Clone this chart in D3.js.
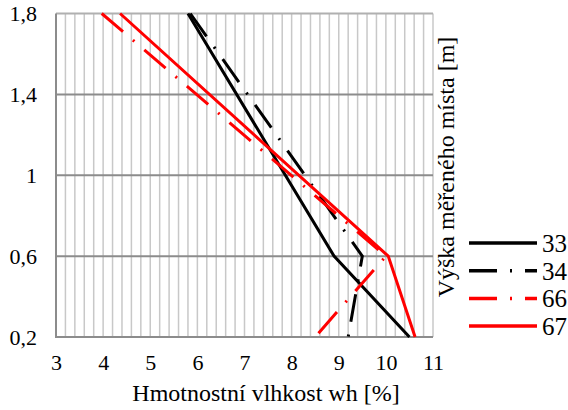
<!DOCTYPE html>
<html>
<head>
<meta charset="utf-8">
<script src="https://cdn.jsdelivr.net/npm/d3@7"></script>
<style>
  body { margin: 0; background: #fff; }
</style>
</head>
<body>
<svg class="chart"></svg>
<script>
// heights of measured points [m]
const heights = [1.8, 0.6, 0.2];
const seriesNames = ['33', '34', '66', '67'];
// moisture content wh [%] at each height
const s33 = [5.8, 8.9, 10.5];
const s34 = [5.85, 9.5, 9.2];
const s66 = [3.97, 10.0, 8.5];
const s67 = [4.36, 10.05, 10.62];
const xTicks = [3, 4, 5, 6, 7, 8, 9, 10, 11];
const yTicks = [0.2, 0.6, 1, 1.4, 1.8];

const serif = '"Times New Roman", "Liberation Serif", Tinos, "Noto Serif", "DejaVu Serif", serif';

const svgWidth = 568;
const svgHeight = 410;
const margin = { top: 13.5, right: 135, bottom: 73, left: 56 };
const chartWidth = svgWidth - margin.left - margin.right;
const chartHeight = svgHeight - margin.top - margin.bottom;

const svg = d3.select('.chart')
  .attr('width', svgWidth)
  .attr('height', svgHeight)
  .attr('font-family', serif);

const chart = svg.append('g')
  .attr('transform', 'translate(' + margin.left + ',' + margin.top + ')');

const xScale = d3.scaleLinear().domain([3, 11]).range([0, chartWidth]);
const yScale = d3.scaleLinear().domain([0.2, 1.8]).range([chartHeight, 0]);

// minor vertical gridlines every 0.2
const minor = d3.range(16, 56).map(d => d / 5);
chart.append('g').selectAll('line')
  .data(minor)
  .enter().append('line')
  .attr('x1', d => xScale(d)).attr('x2', d => xScale(d))
  .attr('y1', 0).attr('y2', chartHeight)
  .attr('stroke', '#c8c8c8')
  .attr('stroke-width', 1.5);

// horizontal gridlines
chart.append('g').selectAll('line')
  .data(yTicks.slice(1))
  .enter().append('line')
  .attr('x1', 0).attr('x2', chartWidth)
  .attr('y1', d => yScale(d)).attr('y2', d => yScale(d))
  .attr('stroke', d => d === 1.8 ? '#b0b0b0' : '#8c8c8c')
  .attr('stroke-width', 2);

// axes
const xAxisGroup = chart.append('g')
  .attr('transform', 'translate(0,' + chartHeight + ')')
  .call(d3.axisBottom(xScale).tickValues(xTicks).tickSize(0).tickPadding(17));
xAxisGroup.attr('font-family', serif).attr('font-size', 22);
xAxisGroup.select('.domain').remove();
xAxisGroup.selectAll('text').attr('fill', '#000');

const yAxisGroup = chart.append('g')
  .call(d3.axisLeft(yScale).tickValues(yTicks).tickSize(0).tickPadding(19)
    .tickFormat(d => String(d).replace('.', ',')));
yAxisGroup.attr('font-family', serif).attr('font-size', 22);
yAxisGroup.select('.domain').remove();
yAxisGroup.selectAll('text').attr('fill', '#000');

chart.append('line')
  .attr('x1', 0).attr('x2', 0).attr('y1', 0).attr('y2', chartHeight + 1)
  .attr('stroke', '#8c8c8c').attr('stroke-width', 2);
chart.append('line')
  .attr('x1', -1).attr('x2', chartWidth).attr('y1', chartHeight).attr('y2', chartHeight)
  .attr('stroke', '#8c8c8c').attr('stroke-width', 2);

// series
const dashDot = '28,13,2,13';
const series = [
  { name: seriesNames[0], values: s33, color: '#000', dash: null },
  { name: seriesNames[1], values: s34, color: '#000', dash: dashDot },
  { name: seriesNames[2], values: s66, color: '#ff0000', dash: dashDot },
  { name: seriesNames[3], values: s67, color: '#ff0000', dash: null }
];

const line = d3.line()
  .x(d => xScale(d[0]))
  .y(d => yScale(d[1]));

chart.selectAll('.series')
  .data(series)
  .enter().append('path')
  .attr('class', 'series')
  .attr('d', d => line(d.values.map((v, i) => [v, heights[i]])))
  .attr('fill', 'none')
  .attr('stroke', d => d.color)
  .attr('stroke-width', 3)
  .attr('stroke-dasharray', d => d.dash);

// axis titles
svg.append('text')
  .attr('x', 266)
  .attr('y', 401)
  .attr('text-anchor', 'middle')
  .attr('font-size', 24)
  .text('Hmotnostní vlhkost wh [%]');

svg.append('text')
  .attr('transform', 'translate(454,167) rotate(-90)')
  .attr('text-anchor', 'middle')
  .attr('font-size', 24)
  .text('Výška měřeného místa [m]');

// legend
const legend = svg.append('g').attr('transform', 'translate(469,243)');
const items = legend.selectAll('g')
  .data(series)
  .enter().append('g')
  .attr('transform', (d, i) => 'translate(0,' + (i * 27.7) + ')');
items.append('line')
  .attr('x1', 0).attr('x2', 68)
  .attr('stroke', d => d.color)
  .attr('stroke-width', 3.5)
  .attr('stroke-dasharray', d => d.dash);
items.append('text')
  .attr('x', 73)
  .attr('y', 9)
  .attr('font-size', 25)
  .text(d => d.name);
</script>
</body>
</html>
